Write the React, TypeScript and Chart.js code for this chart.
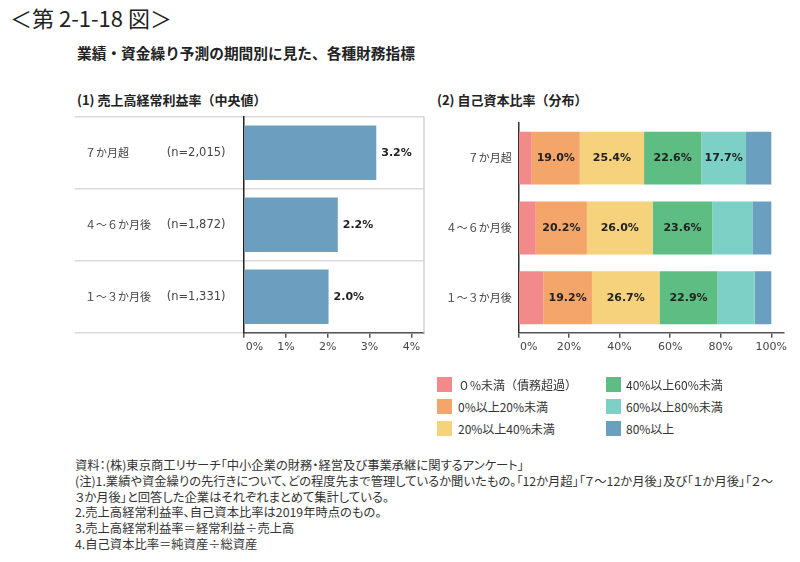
import { useEffect, useRef } from "react";
import { Chart, registerables } from "chart.js";

Chart.register(...registerables);

// ---- data ----
const periods = ["７か月超", "４～６か月後", "１～３か月後"];
const sampleSizes = ["(n=2,015)", "(n=1,872)", "(n=1,331)"];
const profitMargin = [3.16, 2.24, 2.02];
const marginTickValues = [0, 1, 2, 3, 4];

const equityBandNames = [
  "０%未満（債務超過）",
  "0%以上20%未満",
  "20%以上40%未満",
  "40%以上60%未満",
  "60%以上80%未満",
  "80%以上",
];
const bandNegative = [5.3, 6.9, 9.9];
const band0to20 = [19.0, 20.2, 19.2];
const band20to40 = [25.4, 26.0, 26.7];
const band40to60 = [22.6, 23.6, 22.9];
const band60to80 = [17.7, 15.8, 14.7];
const band80plus = [10.0, 7.5, 6.6];
const ratioTickValues = [0, 20, 40, 60, 80, 100];

const bandColors = ["#F28A8C", "#F4A66A", "#F5D27B", "#5EBD83", "#7CD0C5", "#6A9FC0"];
const marginColor = "#6C9FBF";

const notes = [
  "資料：(株)東京商工リサーチ「中小企業の財務・経営及び事業承継に関するアンケート」",
  "(注)1.業績や資金繰りの先行きについて、どの程度先まで管理しているか聞いたもの。「12か月超」「７～12か月後」及び「１か月後」「２～",
  "３か月後」と回答した企業はそれぞれまとめて集計している。",
  "2.売上高経常利益率、自己資本比率は2019年時点のもの。",
  "3.売上高経常利益率＝経常利益÷売上高",
  "4.自己資本比率＝純資産÷総資産",
];

const JP = '"Noto Sans CJK JP", sans-serif';
const NUM = '"DejaVu Sans", "Noto Sans CJK JP", sans-serif';

export default function App() {
  const leftRef = useRef<HTMLCanvasElement>(null);
  const rightRef = useRef<HTMLCanvasElement>(null);

  useEffect(() => {
    const leftPlugin = {
      id: "leftDecor",
      afterDraw(chart: any) {
        const ctx = chart.ctx;
        const ys = chart.scales.y;
        const a = chart.chartArea;
        ctx.save();
        ctx.textBaseline = "middle";
        ctx.textAlign = "left";
        ctx.fillStyle = "#444";
        periods.forEach((p, i) => {
          const py = ys.getPixelForValue(i);
          ctx.font = '11px "Noto Sans CJK JP"';
          ctx.fillText(p, 10, py);
          ctx.font = '11.5px "DejaVu Sans"';
          ctx.fillText(sampleSizes[i], 91.7, py);
        });
        ctx.strokeStyle = "#d0d0d0";
        ctx.lineWidth = 1.5;
        ctx.beginPath();
        ctx.moveTo(a.right, a.top);
        ctx.lineTo(a.right, a.bottom);
        ctx.stroke();
        const meta = chart.getDatasetMeta(0);
        ctx.font = 'bold 11px "DejaVu Sans"';
        ctx.fillStyle = "#222";
        meta.data.forEach((bar: any, i: number) => {
          ctx.fillText(profitMargin[i].toFixed(1) + "%", bar.x + 5, bar.y);
        });
        ctx.restore();
      },
    };

    const left = new Chart(leftRef.current!, {
      type: "bar",
      data: {
        labels: periods,
        datasets: [
          {
            data: profitMargin,
            backgroundColor: marginColor,
            borderWidth: 0,
            barPercentage: 0.757,
            categoryPercentage: 1,
          },
        ],
      },
      options: {
        indexAxis: "y",
        animation: false,
        responsive: true,
        maintainAspectRatio: false,
        layout: { padding: { top: 6.7, right: 16, left: 0, bottom: 0 } },
        plugins: { legend: { display: false }, tooltip: { enabled: false } },
        scales: {
          x: {
            min: 0,
            max: 4.3,
            afterBuildTicks: (s: any) => {
              s.ticks = marginTickValues.map((v) => ({ value: v }));
            },
            afterFit: (s: any) => {
              s.height = 32.3;
            },
            grid: { drawOnChartArea: false, drawTicks: true, tickLength: 5, color: "#555", lineWidth: 1.5 },
            border: { color: "#555", width: 1.5 },
            ticks: {
              padding: 3,
              color: "#444",
              font: { family: NUM, size: 11 },
              callback: (v: any, i: number) => (i === 0 ? "      " : "") + v + "%",
            },
          },
          y: {
            afterFit: (s: any) => {
              s.width = 169;
            },
            grid: { offset: true, color: "#d9d9d9", lineWidth: 1.5, tickLength: 169, drawTicks: true },
            border: { color: "#222", width: 1.5 },
            ticks: { display: false },
          },
        },
      },
      plugins: [leftPlugin],
    } as any);

    const bandSeries = [bandNegative, band0to20, band20to40, band40to60, band60to80, band80plus];

    const rightPlugin = {
      id: "rightLabels",
      afterDatasetsDraw(chart: any) {
        const ctx = chart.ctx;
        ctx.save();
        ctx.font = 'bold 11px "DejaVu Sans"';
        ctx.fillStyle = "#222";
        ctx.textAlign = "center";
        ctx.textBaseline = "middle";
        bandSeries.forEach((series, d) => {
          const meta = chart.getDatasetMeta(d);
          series.forEach((v, i) => {
            if (v >= 17) {
              const bar = meta.data[i];
              ctx.fillText(v.toFixed(1) + "%", (bar.x + bar.base) / 2, bar.y);
            }
          });
        });
        ctx.restore();
      },
    };

    const right = new Chart(rightRef.current!, {
      type: "bar",
      data: {
        labels: periods,
        datasets: bandSeries.map((s, d) => ({
          label: equityBandNames[d],
          data: s,
          backgroundColor: bandColors[d],
          borderWidth: 0,
          barPercentage: 0.757,
          categoryPercentage: 1,
        })),
      },
      options: {
        indexAxis: "y",
        animation: false,
        responsive: true,
        maintainAspectRatio: false,
        layout: { padding: { top: 6.7, right: 16, left: 0, bottom: 0 } },
        plugins: { legend: { display: false }, tooltip: { enabled: false } },
        scales: {
          x: {
            stacked: true,
            min: 0,
            max: 105,
            afterBuildTicks: (s: any) => {
              s.ticks = ratioTickValues.map((v) => ({ value: v }));
            },
            afterFit: (s: any) => {
              s.height = 32.3;
            },
            grid: { drawOnChartArea: false, drawTicks: true, tickLength: 5, color: "#555", lineWidth: 1.5 },
            border: { color: "#555", width: 1.5 },
            ticks: {
              padding: 3,
              color: "#444",
              font: { family: NUM, size: 11 },
              callback: (v: any, i: number) => (i === 0 ? "      " : "") + v + "%",
            },
          },
          y: {
            stacked: true,
            afterFit: (s: any) => {
              s.width = 88.3;
            },
            grid: { display: false, drawTicks: false },
            border: { display: true, color: "#333", width: 1.5 },
            ticks: { padding: 6.6, color: "#444", font: { family: JP, size: 11 } },
          },
        },
      },
      plugins: [rightPlugin],
    } as any);

    return () => {
      left.destroy();
      right.destroy();
    };
  }, []);

  return (
    <div
      style={{
        position: "fixed",
        left: 0,
        top: 0,
        width: 800,
        height: 562,
        background: "#fff",
        fontFamily: JP,
        color: "#222",
        overflow: "hidden",
      }}
    >
      <div style={{ position: "absolute", left: 10, top: 2, fontSize: 22, lineHeight: "30px", whiteSpace: "nowrap" }}>
        ＜第 2-1-18 図＞
      </div>
      <div style={{ position: "absolute", left: 77, top: 43, fontSize: 14.7, fontWeight: 700, lineHeight: "20px", whiteSpace: "nowrap" }}>
        業績・資金繰り予測の期間別に見た、各種財務指標
      </div>
      <div style={{ position: "absolute", left: 77, top: 91, fontSize: 13, fontWeight: 700, lineHeight: "18px", whiteSpace: "nowrap" }}>
        (1) 売上高経常利益率（中央値）
      </div>
      <div style={{ position: "absolute", left: 437, top: 91, fontSize: 13, fontWeight: 700, lineHeight: "18px", whiteSpace: "nowrap" }}>
        (2) 自己資本比率（分布）
      </div>

      <div style={{ position: "absolute", left: 75, top: 110, width: 365, height: 255 }}>
        <canvas ref={leftRef} />
      </div>
      <div style={{ position: "absolute", left: 430, top: 110, width: 370, height: 255 }}>
        <canvas ref={rightRef} />
      </div>

      {equityBandNames.map((name, i) => {
        const col = i < 3 ? 0 : 1;
        const row = i % 3;
        return (
          <div
            key={name}
            style={{
              position: "absolute",
              left: col === 0 ? 437 : 606,
              top: 377 + row * 22,
              height: 15,
              display: "flex",
              alignItems: "center",
              whiteSpace: "nowrap",
              fontSize: 12,
              color: "#333",
            }}
          >
            <span style={{ display: "inline-block", width: 15, height: 15, background: bandColors[i], marginRight: col === 0 ? 6 : 5 }} />
            <span style={{ lineHeight: "15px" }}>{name}</span>
          </div>
        );
      })}

      <div
        style={{
          position: "absolute",
          left: 75,
          top: 458,
          fontSize: 12.3,
          lineHeight: "15.8px",
          color: "#333",
          fontFeatureSettings: '"palt"',
          whiteSpace: "nowrap",
        }}
      >
        {notes.map((t, i) => (
          <div key={i}>{t}</div>
        ))}
      </div>
    </div>
  );
}
